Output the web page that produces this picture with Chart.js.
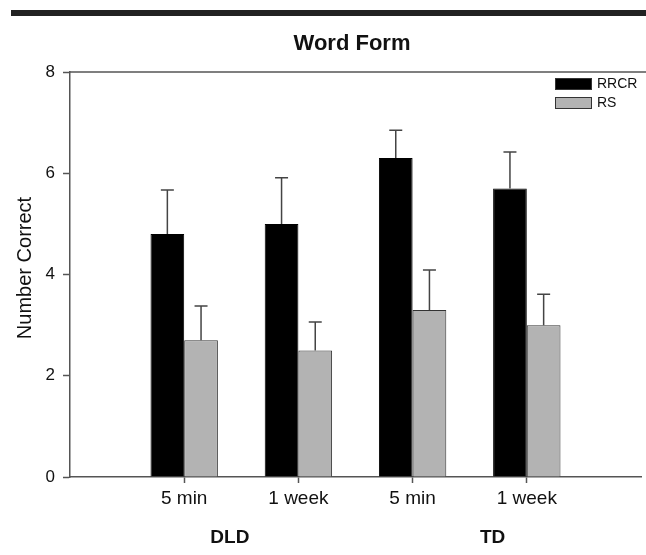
<!DOCTYPE html>
<html>
<head>
<meta charset="utf-8">
<script src="https://cdn.jsdelivr.net/npm/chart.js@4.4.1/dist/chart.umd.min.js"></script>
<style>
  html, body { margin: 0; padding: 0; background: #fff; }
  #wrap { width: 646px; height: 555px; }
</style>
</head>
<body>
<div id="wrap"><canvas id="myChart" width="646" height="555"></canvas></div>
<script>
// data
let categories = ['5 min', '1 week', '5 min', '1 week']
let groups = ['DLD', 'TD']
let rrcr = [4.8, 5.0, 6.3, 5.7]
let rrcrErr = [0.87, 0.91, 0.55, 0.72]
let rs = [2.7, 2.5, 3.3, 3.0]
let rsErr = [0.68, 0.56, 0.79, 0.61]
let yTicks = [0, 2, 4, 6, 8]

// blank slots at both ends so the four groups sit at 1..4 of a 0..5 axis
let labels = [''].concat(categories, [''])
let pad = (arr) => [null].concat(arr, [null])

const FONT = "'Liberation Sans', Arial, sans-serif"
const AXIS = '#555'

// upward-only error bars with caps
let errorBars = {
  id: 'errorBars',
  afterDatasetsDraw(chart) {
    let ctx = chart.ctx
    let y = chart.scales.y
    ctx.save()
    ctx.strokeStyle = '#444'
    ctx.lineWidth = 1.5
    chart.data.datasets.forEach((ds, i) => {
      let meta = chart.getDatasetMeta(i)
      meta.data.forEach((bar, j) => {
        if (ds.data[j] == null) return
        let top = y.getPixelForValue(ds.data[j] + ds.err[j])
        let base = y.getPixelForValue(ds.data[j])
        ctx.beginPath()
        ctx.moveTo(bar.x, base)
        ctx.lineTo(bar.x, top)
        ctx.moveTo(bar.x - 6.5, top)
        ctx.lineTo(bar.x + 6.5, top)
        ctx.stroke()
      })
    })
    ctx.restore()
  },
}

// title, rule, frame top, y title, legend, group labels
let decorations = {
  id: 'decorations',
  afterDraw(chart) {
    let ctx = chart.ctx
    let a = chart.chartArea
    let x = chart.scales.x
    ctx.save()
    // thick rule at the top of the page
    ctx.fillStyle = '#222'
    ctx.fillRect(11, 10, chart.width - 11, 6)

    // top line of the frame
    ctx.strokeStyle = AXIS
    ctx.lineWidth = 1.5
    ctx.beginPath()
    ctx.moveTo(a.left, a.top)
    ctx.lineTo(chart.width, a.top)
    ctx.stroke()

    ctx.fillStyle = '#111'
    ctx.textAlign = 'center'
    ctx.textBaseline = 'middle'
    ctx.font = 'bold 22px ' + FONT
    ctx.fillText('Word Form', 352, 44)

    ctx.save()
    ctx.translate(25, 268)
    ctx.rotate(-Math.PI / 2)
    ctx.font = '20px ' + FONT
    ctx.fillText('Number Correct', 0, 0)
    ctx.restore()

    // group labels under the category labels
    ctx.font = 'bold 19px ' + FONT
    ctx.fillText(groups[0], x.getPixelForValue(1.4), 538)
    ctx.fillText(groups[1], x.getPixelForValue(3.7), 538)

    // legend
    ctx.textAlign = 'left'
    ctx.font = '14px ' + FONT
    let lx = a.right - 86
    chart.data.datasets.forEach((ds, i) => {
      let ly = a.top + 6 + i * 19
      ctx.fillStyle = ds.backgroundColor
      ctx.fillRect(lx, ly, 37, 12)
      ctx.strokeStyle = '#333'
      ctx.lineWidth = 1
      ctx.strokeRect(lx + 0.5, ly + 0.5, 36, 11)
      ctx.fillStyle = '#111'
      ctx.fillText(ds.label, lx + 42, ly + 6.5)
    })
    ctx.restore()
  },
}

let chart1 = new Chart(document.getElementById('myChart').getContext('2d'), {
  type: 'bar',
  data: {
    labels: labels,
    datasets: [
      {
        label: 'RRCR',
        data: pad(rrcr),
        err: pad(rrcrErr),
        backgroundColor: '#000000',
        borderColor: '#000000',
        borderWidth: 1,
      },
      {
        label: 'RS',
        data: pad(rs),
        err: pad(rsErr),
        backgroundColor: '#b3b3b3',
        borderColor: '#333333',
        borderWidth: 1,
      },
    ],
  },
  options: {
    responsive: false,
    animation: false,
    devicePixelRatio: 1,
    layout: { padding: { top: 72, right: 5, left: 0, bottom: 0 } },
    datasets: { bar: { categoryPercentage: 0.59, barPercentage: 1.0 } },
    plugins: {
      legend: { display: false },
      title: { display: false },
      tooltip: { enabled: false },
    },
    scales: {
      x: {
        offset: false,
        grid: {
          offset: false,
          drawOnChartArea: false,
          drawTicks: true,
          tickLength: 6,
          tickColor: (c) => (labels[c.index] ? AXIS : 'rgba(0,0,0,0)'),
          tickWidth: 1.5,
        },
        border: { display: true, color: AXIS, width: 1.5 },
        ticks: {
          color: '#111',
          font: { family: FONT, size: 19 },
          padding: 4,
          maxRotation: 0,
          autoSkip: false,
        },
        afterFit: (s) => { s.height = 78 },
      },
      y: {
        min: 0,
        max: 8,
        afterBuildTicks: (s) => { s.ticks = yTicks.map((v) => ({ value: v })) },
        grid: {
          drawOnChartArea: false,
          drawTicks: true,
          tickLength: 7,
          color: AXIS,
          tickWidth: 1.5,
        },
        border: { display: true, color: AXIS, width: 1.5 },
        ticks: {
          color: '#111',
          font: { family: FONT, size: 17 },
          padding: 8,
        },
        afterFit: (s) => { s.width = 70 },
      },
    },
  },
  plugins: [errorBars, decorations],
})
</script>
</body>
</html>
